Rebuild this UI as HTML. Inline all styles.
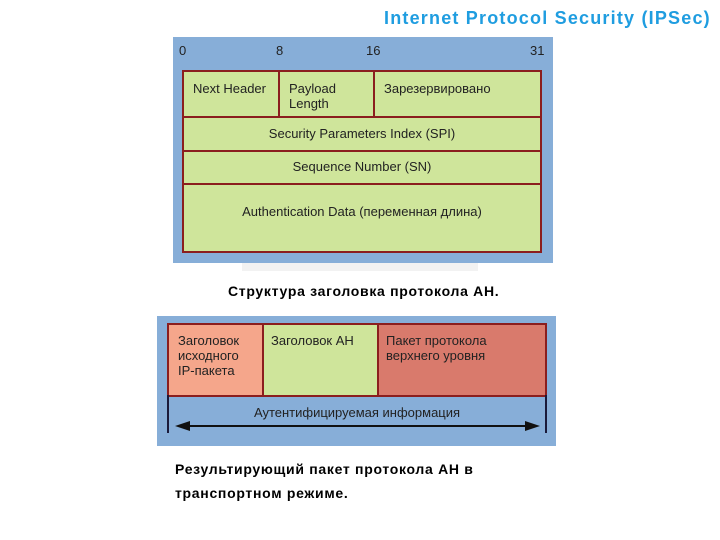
<!DOCTYPE html>
<html><head><meta charset="utf-8"><style>
body{margin:0;width:720px;height:540px;background:#fff;position:relative;font-family:"Liberation Sans","DejaVu Sans",sans-serif;overflow:hidden}
div{position:absolute;box-sizing:border-box}
.t{font-size:13px;color:#222;white-space:nowrap}
.b{border:2px solid #8b1e1e;background:#cfe59b}
.cap{font-weight:bold;font-size:14px;color:#000;letter-spacing:0.7px}
</style></head><body>
<div style="left:384px;top:8px;font-size:18px;font-weight:bold;color:#1f9de0;letter-spacing:1.2px" class="t">Internet Protocol Security (IPSec)</div>

<div style="left:173px;top:37px;width:380px;height:226px;background:#87aed8"></div>
<div style="left:242px;top:263px;width:236px;height:8px;background:#f2f2f2"></div>
<div class="t" style="left:179px;top:43px">0</div>
<div class="t" style="left:276px;top:43px">8</div>
<div class="t" style="left:366px;top:43px">16</div>
<div class="t" style="left:530px;top:43px">31</div>
<div class="b" style="left:182px;top:70px;width:98px;height:48px"></div>
<div class="b" style="left:278px;top:70px;width:97px;height:48px"></div>
<div class="b" style="left:373px;top:70px;width:169px;height:48px"></div>
<div class="b" style="left:182px;top:116px;width:360px;height:36px"></div>
<div class="b" style="left:182px;top:150px;width:360px;height:35px"></div>
<div class="b" style="left:182px;top:183px;width:360px;height:70px"></div>
<div class="t" style="left:193px;top:81px">Next Header</div>
<div class="t" style="left:289px;top:81px;line-height:15px">Payload<br>Length</div>
<div class="t" style="left:384px;top:81px">Зарезервировано</div>
<div class="t" style="left:182px;width:360px;text-align:center;top:126px">Security Parameters Index (SPI)</div>
<div class="t" style="left:182px;width:360px;text-align:center;top:159px">Sequence Number (SN)</div>
<div class="t" style="left:182px;width:360px;text-align:center;top:204px">Authentication Data (переменная длина)</div>

<div class="t cap" style="left:228px;top:283px">Структура заголовка протокола АН.</div>

<div style="left:157px;top:316px;width:399px;height:130px;background:#87aed8"></div>
<div class="b" style="left:167px;top:323px;width:97px;height:74px;background:#f5a68b"></div>
<div class="b" style="left:262px;top:323px;width:117px;height:74px"></div>
<div class="b" style="left:377px;top:323px;width:170px;height:74px;background:#d97a6c"></div>
<div class="t" style="left:178px;top:333px;line-height:15px">Заголовок<br>исходного<br>IP-пакета</div>
<div class="t" style="left:271px;top:333px">Заголовок АН</div>
<div class="t" style="left:386px;top:333px;line-height:15px">Пакет протокола<br>верхнего уровня</div>
<div style="left:167px;top:395px;width:2px;height:38px;background:#1a1a3a"></div>
<div style="left:545px;top:395px;width:2px;height:38px;background:#1a1a3a"></div>
<div class="t" style="left:167px;width:380px;text-align:center;top:405px">Аутентифицируемая информация</div>
<svg style="position:absolute;left:0;top:0" width="720" height="540">
<line x1="185" y1="426" x2="530" y2="426" stroke="#111" stroke-width="2"/>
<polygon points="175,426 190,421 190,431" fill="#111"/>
<polygon points="540,426 525,421 525,431" fill="#111"/>
</svg>

<div class="t cap" style="left:175px;top:457px;line-height:24px">Результирующий пакет протокола АН в<br>транспортном режиме.</div>
</body></html>
